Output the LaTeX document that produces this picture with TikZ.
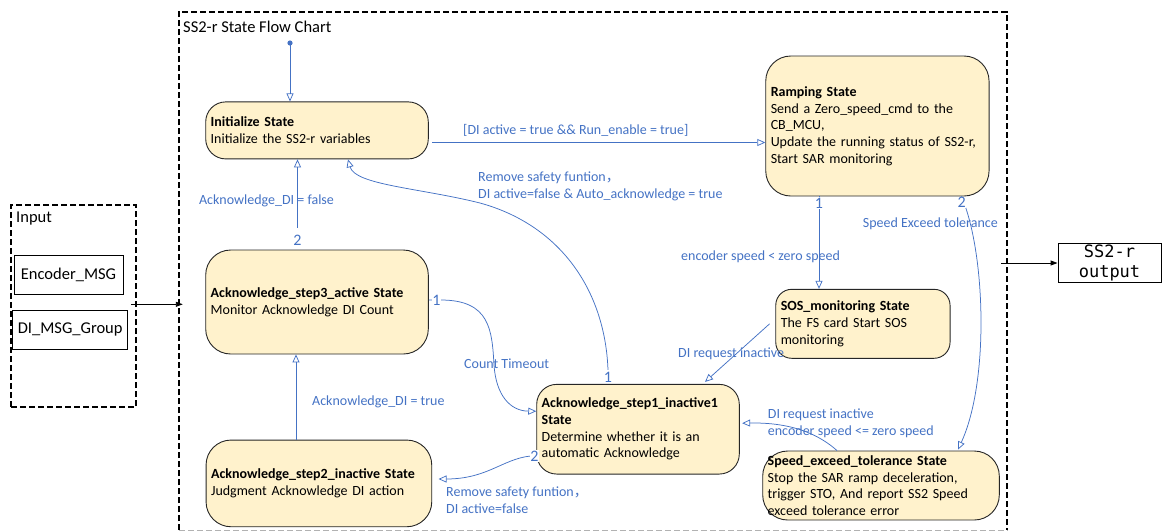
\documentclass[tikz,border=0pt]{standalone}
\usepackage{fontspec}
\setmainfont{Carlito}
\setmonofont{DejaVu Sans Mono}
\newfontfamily\cjk{Noto Sans CJK SC}
\usetikzlibrary{arrows.meta,calc}
\definecolor{lblue}{RGB}{68,114,196}
\definecolor{sfill}{RGB}{255,242,204}
\begin{document}
\begin{tikzpicture}[x=1pt,y=-1pt,
  state/.style={draw=black!85, fill=sfill, rounded corners=20pt, align=left, inner xsep=5pt, inner ysep=1pt, font=\fontsize{14}{16.7}\selectfont, line width=0.9pt},
  conn/.style={draw=lblue, line width=0.75pt, -{Triangle[open,length=8pt,width=7pt]}},
  arr/.style={draw=black, line width=0.9pt, -{Triangle[length=7pt,width=5pt]}},
  lbl/.style={text=lblue, font=\fontsize{14}{16.7}\selectfont, inner sep=0pt, align=left},
  num/.style={text=lblue, font=\fontsize{16}{17}\selectfont, inner sep=0.5pt, fill=white},
  frame/.style={draw=black, line width=1.7pt, dash pattern=on 6pt off 3pt},
  plainbox/.style={draw=black, line width=0.9pt, font=\fontsize{16.5}{18}\selectfont},
]
\useasboundingbox (0,0) rectangle (1162,531);

% frames
\node[minimum width=828pt, minimum height=518pt, inner sep=0pt] (main) at (593,271) {};
\draw[frame] (main.south west) -- (main.north west) -- (main.north east) -- (main.south east);
\draw[frame, draw=gray!60, line width=1.2pt] (main.south west) -- (main.south east);
\node[anchor=west, font=\fontsize{16.5}{18}\selectfont, inner sep=0pt] (title) at (183,27) {SS2-r State Flow Chart};

\node[frame, minimum width=125pt, minimum height=202pt, inner sep=0pt] (inframe) at (73.5,306) {};
\node[anchor=west, font=\fontsize{16.5}{18}\selectfont, inner sep=0pt] (intitle) at (16,219) {Input};
\node[plainbox, minimum width=109pt, minimum height=39pt] (enc) at (68.5,274.5) {Encoder\_MSG};
\node[plainbox, minimum width=115pt, minimum height=39pt] (dimsg) at (70.2,329.5) {DI\_MSG\_Group};

\node[plainbox, minimum width=103pt, minimum height=39.4pt, inner sep=0pt, align=center, font=\ttfamily\fontsize{17}{20}\selectfont] (out) at (1109.5,263) {SS2-r\\output};

\coordinate (in1) at (131,304.3);
\draw[arr] (in1) -- ($(in1 -| main.west)+(4,0)$);
\draw[arr] ($(out.west -| main.east)+(-6,0)$) -- (out.west);

% states
\node[state, text width=212.6pt, minimum height=57pt] (init) at (317,130.4)
  {\textbf{Initialize State}\\Initialize the SS2-r variables};
\node[state, text width=213.3pt, minimum height=140pt, rounded corners=25pt] (ramp) at (877.4,126)
  {\textbf{Ramping State}\\Send a Zero\_speed\_cmd to the\\CB\_MCU,\\Update the running status of SS2-r,\\Start SAR monitoring};
\node[state, text width=164.3pt, minimum height=69pt, rounded corners=16pt] (sos) at (862.9,323.8)
  {\textbf{SOS\_monitoring State}\\The FS card Start SOS\\monitoring};
\node[state, text width=212.6pt, minimum height=104pt, rounded corners=25pt] (step3) at (317,302)
  {\textbf{Acknowledge\_step3\_active State}\\Monitor Acknowledge DI Count};
\node[state, text width=192.6pt, minimum height=89.7pt] (step1) at (638,429.2)
  {\textbf{Acknowledge\_step1\_inactive1}\\\textbf{State}\\Determine whether it is an\\automatic Acknowledge};
\node[state, text width=215.7pt, minimum height=86.7pt, rounded corners=25pt] (step2) at (318.9,483.4)
  {\textbf{Acknowledge\_step2\_inactive State}\\Judgment Acknowledge DI action};
\node[state, text width=226.6pt, minimum height=69pt, inner ysep=0pt, rounded corners=25pt] (speed) at (881,485.5)
  {\textbf{Speed\_exceed\_tolerance State}\\Stop the SAR ramp deceleration,\\trigger STO, And report SS2 Speed\\exceed tolerance error};

% initial point
\coordinate (start) at (290,43);
\fill[lblue] (start) circle (2.6);
\draw[conn] (start) -- (start |- init.north);

% init -> ramp
\coordinate (b1) at (432,142.5);
\draw[conn] (b1) -- (b1 -| ramp.west);
\node[lbl, anchor=west] (lb1) at (463,130) {[DI active = true \&\& Run\_enable = true]};

% step3 -> init
\draw[conn] ([xshift=-19.5pt,yshift=22pt]step3.north) -- ([xshift=-19.5pt]init.south);
\node[num] (n3) at (297.5,240.5) {2};
\node[lbl] (lc) at (266.5,201) {Acknowledge\_DI = false};

% step1 -> init
\draw[conn] ([xshift=-30pt,yshift=14pt]step1.north) .. controls (605,290) and (560,225) .. (480,203) .. controls (420,188) and (355,185) .. ([xshift=31pt]init.south);
\node[num] (n1a) at (608,377) {1};
\node[lbl, anchor=west] (ld) at (478,186.5) {Remove safety funtion{\cjk ，}\\DI active=false \& Auto\_acknowledge = true};

% step3 -> step1
\draw[conn] ([yshift=2pt]step3.east) -- ++(12,0) .. controls (490,300) and (492,330) .. (494,365) .. controls (496,395) and (510,411) .. ([yshift=18pt]step1.west);
\node[num] (n3b) at (436.5,300.5) {1};
\node[lbl, anchor=west] (le) at (464,364) {Count Timeout};

% step2 -> step3
\draw[conn] ([xshift=-22.9pt]step2.north) -- ([xshift=-21pt]step3.south);
\node[lbl, anchor=west] (lf) at (312,401.7) {Acknowledge\_DI = true};

% step1 -> step2
\draw[conn] ([yshift=-26.5pt]step1.west) .. controls (505,456) and (490,479) .. ([xshift=6.3pt,yshift=4.4pt]step2.east);
\node[num] (n1b) at (534.5,456) {2};
\node[lbl, anchor=west] (lg) at (446,500) {Remove safety funtion{\cjk ，}\\DI active=false};

% ramp -> sos
\draw[conn] ([xshift=-58.4pt]ramp.south) -- ([xshift=-43.9pt]sos.north);
\node[num] (nr1) at (819,203) {1};
\node[lbl, anchor=west] (lh) at (681,256.7) {encoder speed < zero speed};

% ramp -> speed
\draw[conn] ([xshift=84pt]ramp.south) .. controls (985,250) and (990,380) .. ([xshift=77pt,yshift=1pt]speed.north);
\node[num] (nr2) at (961.7,202.5) {2};
\node[lbl, anchor=west] (li) at (862.7,223.3) {Speed Exceed tolerance};

% sos -> step1
\draw[conn] ([xshift=-5.7pt]sos.west) -- ([xshift=67pt,yshift=2pt]step1.north);
\node[lbl, anchor=west] (lj) at (678,353.3) {DI request inactive};

% speed -> step1
\draw[conn] ([xshift=-44pt]speed.north) .. controls (825,440) and (800,422) .. ([xshift=2.4pt,yshift=6pt]step1.east);
\node[lbl, anchor=west] (lk) at (767.7,423.3) {DI request inactive\\encoder speed <= zero speed};
\end{tikzpicture}
\end{document}
